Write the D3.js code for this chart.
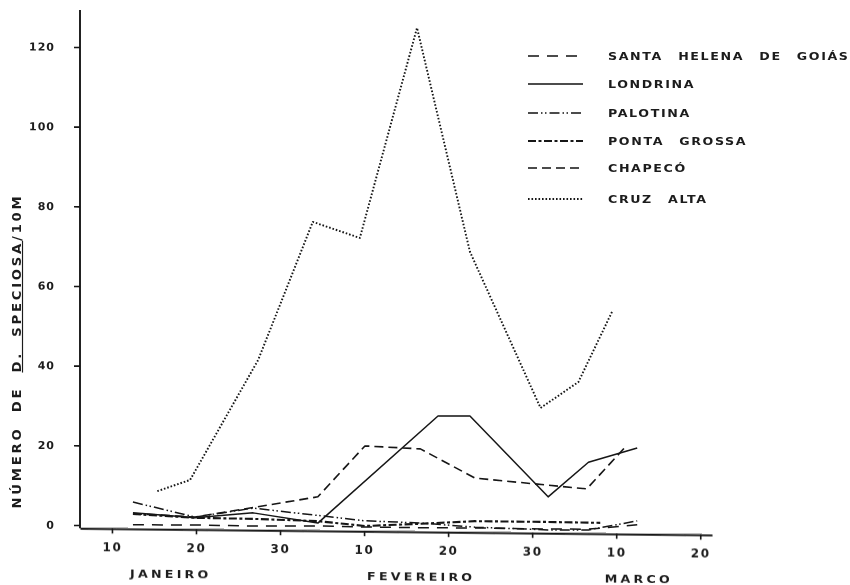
<!DOCTYPE html>
<html>
<head>
<meta charset="utf-8">
<script src="https://cdn.jsdelivr.net/npm/d3@7"></script>
<style>
  html, body { margin: 0; padding: 0; background: #fff; }
  svg { display: block; }
  text { font-family: "DejaVu Sans", "Liberation Sans", sans-serif; font-weight: bold; fill: #1b1b1b; }
</style>
</head>
<body>
<svg id="chart" width="850" height="585"></svg>
<script>
// Axis ticks and labels
const xTickValues = [10, 20, 30, 40, 50, 60, 70, 80];
const xTickLabels = ["10", "20", "30", "10", "20", "30", "10", "20"];
const yTickValues = [0, 20, 40, 60, 80, 100, 120];
const monthNames = ["JANEIRO", "FEVEREIRO", "MARCO"];
const monthCenters = [17.0, 46.8, 72.7];

// Series names in legend order
const seriesNames = ["SANTA HELENA DE GOIÁS", "LONDRINA", "PALOTINA", "PONTA GROSSA", "CHAPECÓ", "CRUZ ALTA"];

// Sampling days (10 units per labelled interval) and counts per site
const santaHelenaDays   = [12.5, 19.9, 26.8, 34.5, 40.1, 46.7, 53.2, 61.9, 66.7, 72.5];
const santaHelenaValues = [0.2, 0.3, 0.2, 0.4, 0.25, 0.2, 0.3, 0.2, 0.3, 1.5];

const londrinaDays   = [12.5, 19.9, 26.8, 34.5, 48.8, 52.6, 61.9, 66.7, 72.5];
const londrinaValues = [3.2, 2.1, 3.5, 1.1, 28.3, 28.4, 8.3, 17.1, 20.8];

const palotinaDays   = [12.5, 19.9, 26.8, 40.1, 46.7, 53.2, 61.9, 66.7, 72.5];
const palotinaValues = [5.9, 2.3, 4.7, 1.8, 1.4, 0.5, 0.0, 0.1, 2.5];

const pontaGrossaDays   = [12.5, 19.9, 26.8, 34.5, 40.1, 46.7, 53.2, 61.9, 68.1];
const pontaGrossaValues = [2.9, 2.1, 2.0, 1.6, 0.5, 1.2, 2.0, 2.0, 1.9];

const chapecoDays   = [12.5, 19.9, 34.5, 40.1, 46.7, 53.2, 66.5, 71.3];
const chapecoValues = [3.0, 2.3, 7.7, 20.6, 20.0, 12.8, 10.4, 21.5];

const cruzAltaDays   = [15.4, 19.3, 27.4, 33.9, 39.5, 46.3, 52.6, 61.0, 65.5, 69.5];
const cruzAltaValues = [8.7, 11.6, 41.9, 76.7, 72.8, 125.7, 69.6, 30.6, 37.2, 54.9];

const seriesDays = [santaHelenaDays, londrinaDays, palotinaDays, pontaGrossaDays, chapecoDays, cruzAltaDays];
const seriesValues = [santaHelenaValues, londrinaValues, palotinaValues, pontaGrossaValues, chapecoValues, cruzAltaValues];

// Line styles per site
const styles = [
  { dash: "11,8", width: 1.5 },
  { dash: null, width: 1.5 },
  { dash: "10,3,1.5,2.5,1.5,3", width: 1.5 },
  { dash: "8,2.5,3,2.5", width: 2.1 },
  { dash: "9,5", width: 1.6 },
  { dash: "1.6,1.9", width: 1.9 }
];

const svg = d3.select("#chart");
const ink = "#161616";

const defs = svg.append("defs");
defs.append("filter").attr("id", "soft")
  .append("feGaussianBlur").attr("stdDeviation", 0.35);

const root = svg.append("g").attr("filter", "url(#soft)");

const x = d3.scaleLinear().domain([6.2, 81.4]).range([80, 712]);
const y = d3.scaleLinear().domain([0, 120]).range([525, 47]);

// Plot area, slightly sheared as printed
const plot = root.append("g")
  .attr("transform", "translate(80,525) skewY(0.6) translate(-80,-525)");

// Y axis
const yAxis = plot.append("g")
  .attr("transform", `translate(${x(6.2)},0)`)
  .call(d3.axisLeft(y).tickValues(yTickValues).tickSize(6).tickPadding(19));
yAxis.select(".domain").remove();
yAxis.selectAll("line").attr("stroke", ink).attr("stroke-width", 1.6);
yAxis.selectAll("text").attr("font-size", 11).attr("letter-spacing", 1).attr("fill", ink);
plot.append("line")
  .attr("x1", x(6.2)).attr("x2", x(6.2))
  .attr("y1", y(-0.8)).attr("y2", y(129.3))
  .attr("stroke", ink).attr("stroke-width", 1.9);

// X axis
const xAxis = plot.append("g")
  .attr("transform", `translate(0,${y(-0.8)})`)
  .call(d3.axisBottom(x).tickValues(xTickValues).tickFormat((d, i) => xTickLabels[i])
    .tickSize(5).tickSizeOuter(0).tickPadding(9));
xAxis.select(".domain").attr("stroke", ink).attr("stroke-width", 1.9);
xAxis.selectAll("line").attr("stroke", ink).attr("stroke-width", 1.6);
xAxis.selectAll("text").attr("font-size", 12).attr("letter-spacing", 1.6).attr("fill", ink);

// Month labels (wide lettering)
plot.selectAll(".month").data(monthNames).join("text")
  .attr("class", "month")
  .attr("transform", (d, i) => `translate(${x(monthCenters[i])},577) scale(1.15,1)`)
  .attr("text-anchor", "middle")
  .attr("font-size", 11)
  .attr("letter-spacing", 2.8)
  .text(d => d);

// Series lines
const line = d3.line().x(d => x(d[0])).y(d => y(d[1]));
seriesNames.forEach((name, i) => {
  const pts = seriesDays[i].map((t, k) => [t, seriesValues[i][k]]);
  plot.append("path")
    .datum(pts)
    .attr("d", line)
    .attr("fill", "none")
    .attr("stroke", ink)
    .attr("stroke-width", styles[i].width)
    .attr("stroke-linejoin", "round")
    .attr("stroke-dasharray", styles[i].dash);
});

// Y axis title
const yTitle = root.append("text")
  .attr("transform", "translate(21,351) rotate(-90) scale(1.15,1)")
  .attr("text-anchor", "middle")
  .attr("font-size", 11.5)
  .attr("letter-spacing", 2.4)
  .attr("word-spacing", 6);
yTitle.append("tspan").text("NÚMERO DE ");
yTitle.append("tspan").attr("text-decoration", "underline").text("D. SPECIOSA");
yTitle.append("tspan").text("/10M");

// Legend
const legendRows = [56, 84, 113, 141, 168, 199];
const legend = root.append("g");
seriesNames.forEach((name, i) => {
  legend.append("line")
    .attr("x1", 528).attr("x2", 583)
    .attr("y1", legendRows[i]).attr("y2", legendRows[i])
    .attr("stroke", ink)
    .attr("stroke-width", styles[i].width)
    .attr("stroke-dasharray", styles[i].dash);
  legend.append("text")
    .attr("transform", `translate(608,${legendRows[i] + 4}) scale(1.15,1)`)
    .attr("font-size", 11)
    .attr("letter-spacing", 1.4)
    .attr("word-spacing", 8)
    .text(name);
});
</script>
</body>
</html>
